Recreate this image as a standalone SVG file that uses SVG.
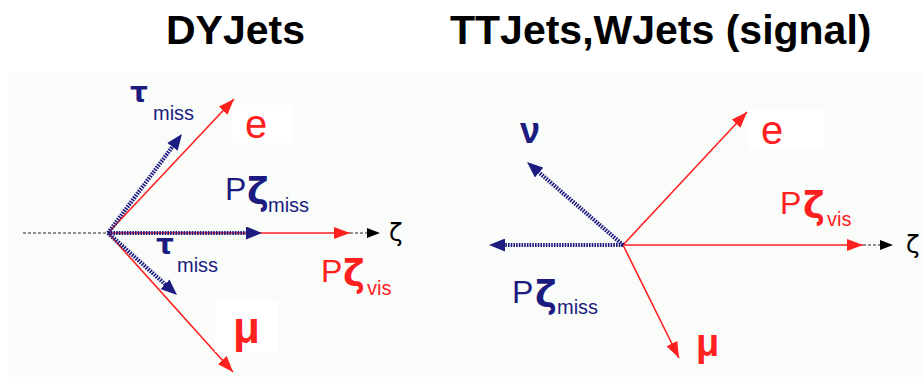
<svg xmlns="http://www.w3.org/2000/svg" width="923" height="377" viewBox="0 0 923 377">
<defs>
<style>
.title{font-family:"Liberation Sans",Arial,sans-serif;font-weight:bold;font-size:41px;fill:#000}
.lab{font-family:"Liberation Sans",Arial,"DejaVu Sans",sans-serif}
.navy{fill:#1c1c80}
.red{fill:#ff2020}
.sub{font-size:20px}
.big{font-size:32px}
.zb{font-family:"DejaVu Sans",sans-serif;font-size:37px;font-weight:bold}
.tau{font-family:"DejaVu Sans",sans-serif;font-size:28px;font-weight:bold}
.axis{font-family:"DejaVu Sans",sans-serif;font-size:25px;fill:#000}
.rl{stroke:#ff2020;stroke-width:1.6;fill:none;marker-end:url(#ar)}
.bl{stroke:#1c1c80;stroke-width:4.2;stroke-dasharray:1.6 1.1;fill:none;marker-end:url(#ab)}
.kl{stroke:#222;stroke-width:1.2;stroke-dasharray:3 2;fill:none}
.ka{stroke:#222;stroke-width:1.2;stroke-dasharray:3 2;fill:none;marker-end:url(#ak)}
</style>
<marker id="ar" viewBox="0 0 16 12" refX="16" refY="6" markerWidth="16" markerHeight="12" markerUnits="userSpaceOnUse" orient="auto"><path d="M0,0L16,6L0,12z" fill="#ff2020"/></marker>
<marker id="ab" viewBox="0 0 16 13" refX="2" refY="6.5" markerWidth="16" markerHeight="13" markerUnits="userSpaceOnUse" orient="auto"><path d="M0,0L16,6.5L0,13z" fill="#1c1c80"/></marker>
<marker id="ak" viewBox="0 0 13 10" refX="13" refY="5" markerWidth="13" markerHeight="10" markerUnits="userSpaceOnUse" orient="auto"><path d="M0,0L13,5L0,10z" fill="#000"/></marker>
</defs>
<rect x="8" y="73" width="915" height="304" fill="#fafcfa"/>
<g id="titles">
<text class="title" x="166" y="44">DYJets</text>
<text class="title" x="450" y="44">TTJets,WJets (signal)</text>
</g>
<g id="connectors">
<line class="kl" x1="23" y1="233" x2="108" y2="233"/>
<line class="ka" x1="350" y1="233" x2="380" y2="233"/>
<line class="rl" x1="108" y1="233" x2="350" y2="233"/>
<line class="rl" x1="108" y1="233" x2="234" y2="99"/>
<line class="rl" x1="108" y1="233" x2="233" y2="372"/>
<line class="bl" x1="108" y1="233" x2="248" y2="233"/>
<line class="bl" x1="108" y1="233" x2="173.6" y2="145.2"/>
<line class="bl" x1="108" y1="233" x2="166.6" y2="285.6"/>
<line class="ka" x1="863" y1="245" x2="893" y2="245"/>
<line class="rl" x1="623" y1="245" x2="863" y2="245"/>
<line class="rl" x1="623" y1="245" x2="747" y2="112"/>
<line class="rl" x1="623" y1="245" x2="679" y2="358"/>
<line class="bl" x1="623" y1="245" x2="537.6" y2="171.2"/>
<line class="bl" x1="623" y1="245" x2="503" y2="245"/>
</g>
<g id="left-labels">
<g id="tau-upper"><text class="lab navy"><tspan class="tau" x="130" y="102">τ</tspan><tspan class="sub" x="153" y="120">miss</tspan></text></g>
<g id="e-left"><rect x="232" y="105" width="61" height="38" fill="#fff"/><text class="lab red" x="245" y="138" font-size="40">e</text></g>
<g id="pz-miss-left"><text class="lab navy"><tspan class="big" x="225" y="200">P</tspan><tspan class="zb" x="247" y="204">ζ</tspan><tspan class="sub" x="268" y="212">miss</tspan></text></g>
<g id="tau-lower"><text class="lab navy"><tspan class="tau" x="156" y="254">τ</tspan><tspan class="sub" x="177" y="272">miss</tspan></text></g>
<g id="pz-vis-left"><text class="lab red"><tspan class="big" x="321" y="282">P</tspan><tspan class="zb" x="343" y="286">ζ</tspan><tspan class="sub" x="367" y="295">vis</tspan></text></g>
<g id="mu-left"><rect x="215" y="300" width="63" height="52" fill="#fff"/><text class="lab red" x="233" y="343" font-size="44" font-weight="bold">μ</text></g>
<g id="zeta-left"><text class="axis" x="389" y="241">ζ</text></g>
</g>
<g id="right-labels">
<g id="nu"><text class="lab navy" x="520" y="143" font-family="DejaVu Sans, sans-serif" font-size="36" font-weight="bold">ν</text></g>
<g id="e-right"><rect x="748" y="110" width="77" height="39" fill="#fff"/><text class="lab red" x="761" y="144" font-size="40">e</text></g>
<g id="pz-vis-right"><text class="lab red"><tspan class="big" x="780" y="214">P</tspan><tspan class="zb" x="803" y="218">ζ</tspan><tspan class="sub" x="827" y="226">vis</tspan></text></g>
<g id="pz-miss-right"><text class="lab navy"><tspan class="big" x="512" y="303">P</tspan><tspan class="zb" x="535" y="307">ζ</tspan><tspan class="sub" x="557" y="314">miss</tspan></text></g>
<g id="mu-right"><text class="lab red" x="696" y="356" font-size="38" font-weight="bold">μ</text></g>
<g id="zeta-right"><text class="axis" x="906" y="253">ζ</text></g>
</g>
</svg>
